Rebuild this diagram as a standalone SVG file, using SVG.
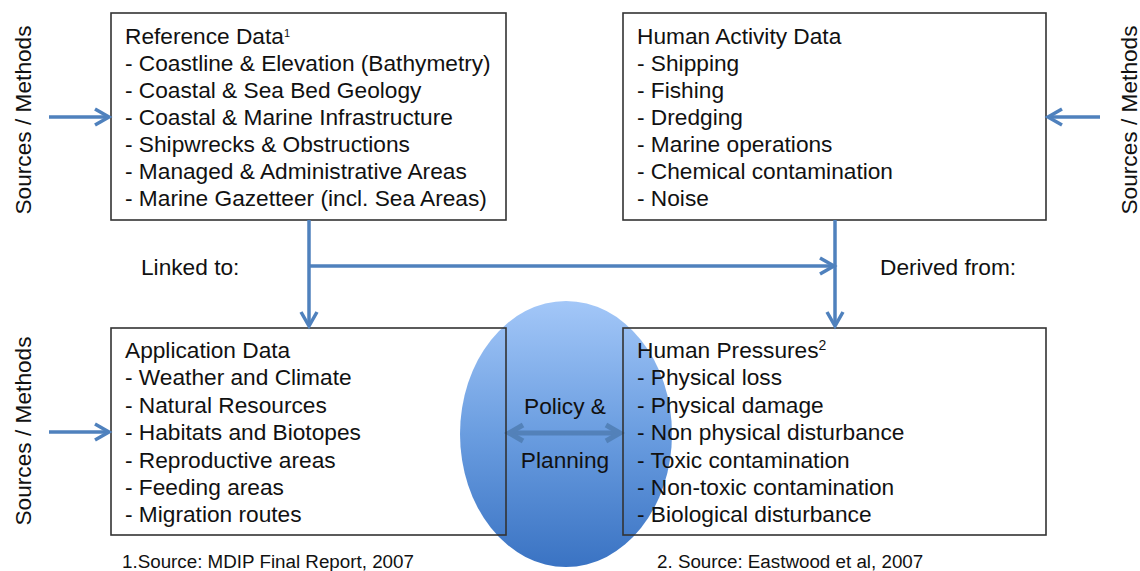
<svg xmlns="http://www.w3.org/2000/svg" width="1140" height="571" viewBox="0 0 1140 571">
  <style>
    text { font-family: "Liberation Sans", Arial, sans-serif; fill: #111; }
    .t { font-size: 22.7px; }
    .fn { font-size: 18.8px; }
    .box { fill: none; stroke: #333; stroke-width: 1.6; }
    .conn { fill: none; stroke: #4f81bd; stroke-width: 3.5; }
  </style>
  <defs>
    <marker id="arr" markerUnits="userSpaceOnUse" markerWidth="30" markerHeight="30" viewBox="-20 -15 30 30" refX="0" refY="0" orient="auto">
      <path d="M-14,-8 L0,0 L-14,8" fill="none" stroke="#4f81bd" stroke-width="3.5" stroke-linejoin="miter"/>
    </marker>
    <linearGradient id="eg" x1="0" y1="0" x2="0" y2="1">
      <stop offset="0" stop-color="#a3c7f8"/>
      <stop offset="0.5" stop-color="#6a9de0"/>
      <stop offset="1" stop-color="#3a73c3"/>
    </linearGradient>
  </defs>
  <rect width="1140" height="571" fill="#fff"/>

  <g id="policy">
    <ellipse cx="566" cy="434" rx="106" ry="133" fill="url(#eg)"/>
    <g fill="none" stroke="#4f7db3" stroke-width="5" opacity="0.85">
      <path d="M512,433 L617,433"/>
      <path d="M523,425 L509,433 L523,441"/>
      <path d="M606,425 L620,433 L606,441"/>
    </g>
    <text class="t" x="565" y="414" text-anchor="middle">Policy &amp;</text>
    <text class="t" x="565" y="468" text-anchor="middle">Planning</text>
  </g>

  <g id="reference-data">
    <rect class="box" x="111" y="13" width="395" height="207"/>
    <text class="t" x="125" y="44">Reference Data<tspan font-size="11" dy="-7">1</tspan></text>
    <text class="t" x="125" y="71">- Coastline &amp; Elevation (Bathymetry)</text>
    <text class="t" x="125" y="98">- Coastal &amp; Sea Bed Geology</text>
    <text class="t" x="125" y="125">- Coastal &amp; Marine Infrastructure</text>
    <text class="t" x="125" y="152">- Shipwrecks &amp; Obstructions</text>
    <text class="t" x="125" y="179">- Managed &amp; Administrative Areas</text>
    <text class="t" x="125" y="206">- Marine Gazetteer (incl. Sea Areas)</text>
  </g>

  <g id="human-activity-data">
    <rect class="box" x="623" y="13" width="423" height="207"/>
    <text class="t" x="637" y="44">Human Activity Data</text>
    <text class="t" x="637" y="71">- Shipping</text>
    <text class="t" x="637" y="98">- Fishing</text>
    <text class="t" x="637" y="125">- Dredging</text>
    <text class="t" x="637" y="152">- Marine operations</text>
    <text class="t" x="637" y="179">- Chemical contamination</text>
    <text class="t" x="637" y="206">- Noise</text>
  </g>

  <g id="application-data">
    <rect class="box" x="111" y="328" width="395" height="207"/>
    <text class="t" x="125" y="358">Application Data</text>
    <text class="t" x="125" y="385">- Weather and Climate</text>
    <text class="t" x="125" y="413">- Natural Resources</text>
    <text class="t" x="125" y="440">- Habitats and Biotopes</text>
    <text class="t" x="125" y="468">- Reproductive areas</text>
    <text class="t" x="125" y="495">- Feeding areas</text>
    <text class="t" x="125" y="522">- Migration routes</text>
  </g>

  <g id="human-pressures">
    <rect class="box" x="623" y="328" width="423" height="207"/>
    <text class="t" x="637" y="358">Human Pressures<tspan font-size="14" dy="-8">2</tspan></text>
    <text class="t" x="637" y="385">- Physical loss</text>
    <text class="t" x="637" y="413">- Physical damage</text>
    <text class="t" x="637" y="440">- Non physical disturbance</text>
    <text class="t" x="637" y="468">- Toxic contamination</text>
    <text class="t" x="637" y="495">- Non-toxic contamination</text>
    <text class="t" x="637" y="522">- Biological disturbance</text>
  </g>

  <g id="connectors">
    <line class="conn" x1="309" y1="220" x2="309" y2="326" marker-end="url(#arr)"/>
    <line class="conn" x1="309" y1="266" x2="834" y2="266" marker-end="url(#arr)"/>
    <line class="conn" x1="835" y1="220" x2="835" y2="326" marker-end="url(#arr)"/>
    <line class="conn" x1="49" y1="117" x2="109" y2="117" marker-end="url(#arr)"/>
    <line class="conn" x1="1100" y1="117" x2="1048" y2="117" marker-end="url(#arr)"/>
    <line class="conn" x1="49" y1="432" x2="109" y2="432" marker-end="url(#arr)"/>
  </g>

  <g id="labels">
    <text class="t" x="141" y="275">Linked to:</text>
    <text class="t" x="880" y="275">Derived from:</text>
    <text class="t" transform="translate(31,120) rotate(-90)" text-anchor="middle">Sources / Methods</text>
    <text class="t" transform="translate(31,431) rotate(-90)" text-anchor="middle">Sources / Methods</text>
    <text class="t" transform="translate(1137,120) rotate(-90)" text-anchor="middle">Sources / Methods</text>
    <text class="fn" x="122" y="568">1.Source: MDIP Final Report, 2007</text>
    <text class="fn" x="657" y="568">2. Source: Eastwood et al, 2007</text>
  </g>
</svg>
